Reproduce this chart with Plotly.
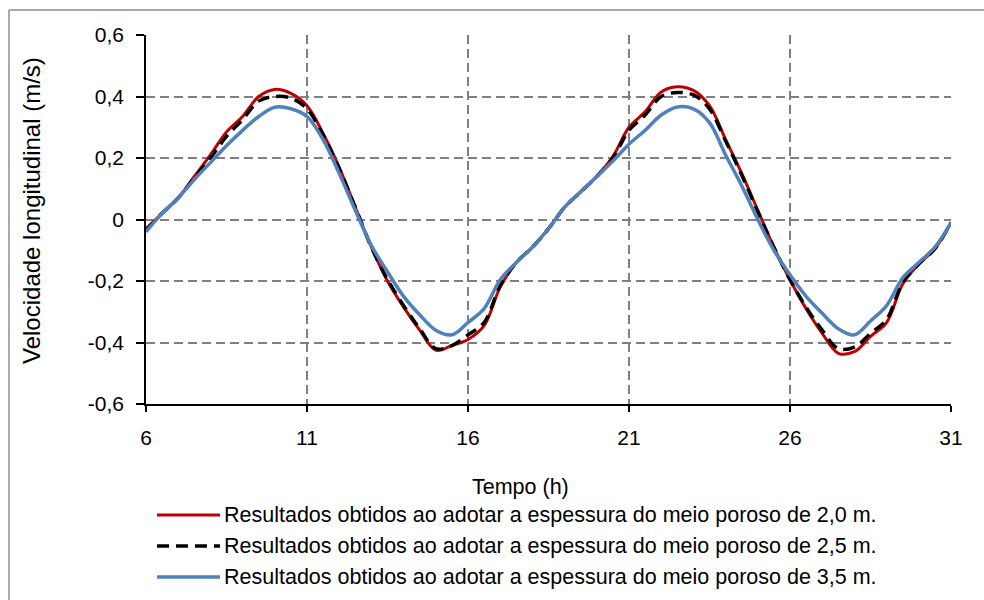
import plotly.graph_objects as go

tempo = [6.0, 6.5, 7.0, 7.5, 8.0, 8.5, 9.0, 9.5, 10.0, 10.5, 11.0, 11.5, 12.0, 12.5, 13.0, 13.5,
         14.0, 14.5, 15.0, 15.5, 16.0, 16.5, 17.0, 17.5, 18.0, 18.5, 19.0, 19.5, 20.0, 20.5,
         21.0, 21.5, 22.0, 22.5, 23.0, 23.5, 24.0, 24.5, 25.0, 25.5, 26.0, 26.5, 27.0, 27.5,
         28.0, 28.5, 29.0, 29.5, 30.0, 30.5, 31.0]

vel_2_0 = [-0.03, 0.02, 0.07, 0.14, 0.21, 0.285, 0.335, 0.40, 0.423, 0.41, 0.37, 0.28, 0.17, 0.04,
           -0.09, -0.20, -0.285, -0.36, -0.425, -0.41, -0.39, -0.345, -0.22, -0.14, -0.09, -0.03,
           0.04, 0.09, 0.14, 0.205, 0.30, 0.35, 0.415, 0.432, 0.42, 0.37, 0.26, 0.15, 0.03, -0.09,
           -0.196, -0.29, -0.37, -0.435, -0.43, -0.38, -0.335, -0.21, -0.145, -0.095, -0.01]

vel_2_5 = [-0.035, 0.02, 0.07, 0.135, 0.20, 0.27, 0.325, 0.385, 0.40, 0.395, 0.36, 0.275, 0.165, 0.04,
           -0.09, -0.195, -0.28, -0.355, -0.42, -0.41, -0.375, -0.335, -0.215, -0.14, -0.09, -0.03,
           0.04, 0.09, 0.14, 0.20, 0.29, 0.34, 0.40, 0.413, 0.405, 0.36, 0.255, 0.145, 0.025, -0.09,
           -0.196, -0.285, -0.36, -0.42, -0.415, -0.37, -0.325, -0.205, -0.145, -0.095, -0.01]

vel_3_5 = [-0.04, 0.02, 0.07, 0.13, 0.185, 0.24, 0.29, 0.335, 0.365, 0.36, 0.335, 0.26, 0.15, 0.03,
           -0.085, -0.17, -0.25, -0.31, -0.36, -0.375, -0.335, -0.29, -0.196, -0.14, -0.09, -0.03,
           0.04, 0.09, 0.14, 0.19, 0.245, 0.29, 0.34, 0.366, 0.36, 0.315, 0.21, 0.11, 0.0, -0.10,
           -0.18, -0.25, -0.305, -0.355, -0.375, -0.33, -0.28, -0.19, -0.14, -0.09, -0.01]

y_ticks = [-0.6, -0.4, -0.2, 0.0, 0.2, 0.4, 0.6]
y_tick_text = ["-0,6", "-0,4", "-0,2", "0", "0,2", "0,4", "0,6"]
x_ticks = [6, 11, 16, 21, 26, 31]

names = [
    "Resultados obtidos ao adotar a espessura do meio poroso de 2,0 m.",
    "Resultados obtidos ao adotar a espessura do meio poroso de 2,5 m.",
    "Resultados obtidos ao adotar a espessura do meio poroso de 3,5 m.",
]
colors = ["#C00000", "#000000", "#4F81BD"]
dashes = ["solid", "12px,7px", "solid"]
widths = [3, 3.5, 3.5]
series = [vel_2_0, vel_2_5, vel_3_5]

FONT = "Liberation Sans, Arial, sans-serif"

fig = go.Figure()
for name, vals, c, d, w in zip(names, series, colors, dashes, widths):
    fig.add_trace(go.Scatter(
        x=tempo, y=vals, mode="lines", name=name,
        line=dict(color=c, width=w, dash=d, shape="spline", smoothing=1.0),
        showlegend=False,
    ))

# plot-area pixel geometry helpers (paper coords)
L, R, T, B = 146, 951, 35, 404
def px(x):
    return (x - L) / (R - L)
def py(y):
    return (B - y) / (B - T)

shapes = []
annotations = []
legend_rows = [515, 546, 577]
for yrow, name, c, d, w in zip(legend_rows, names, colors, dashes, widths):
    shapes.append(dict(type="line", xref="paper", yref="paper",
                       x0=px(157), x1=px(220), y0=py(yrow), y1=py(yrow),
                       line=dict(color=c, width=w, dash=d)))
    annotations.append(dict(text=name, xref="paper", yref="paper", x=px(222), y=py(yrow),
                            xanchor="left", yanchor="middle", showarrow=False,
                            font=dict(family=FONT, size=21.5, color="#000")))

annotations.append(dict(text="Tempo (h)", xref="paper", yref="paper", x=px(520), y=py(487),
                        xanchor="center", yanchor="middle", showarrow=False,
                        font=dict(family=FONT, size=21.5, color="#000")))
annotations.append(dict(text="Velocidade longitudinal (m/s)", xref="paper", yref="paper",
                        x=px(31), y=py(211), xanchor="center", yanchor="middle", textangle=-90,
                        showarrow=False, font=dict(family=FONT, size=24, color="#000")))

# outer chart border (left and top edges are the visible ones)
shapes.append(dict(type="line", xref="paper", yref="paper",
                   x0=px(9), x1=px(9), y0=py(600), y1=py(10),
                   line=dict(color="#8c8c8c", width=1.5), layer="below"))
shapes.append(dict(type="line", xref="paper", yref="paper",
                   x0=px(9), x1=px(984), y0=py(10), y1=py(10),
                   line=dict(color="#8c8c8c", width=1.5), layer="below"))

fig.update_layout(
    width=984, height=600,
    margin=dict(l=L, r=984 - R, t=T, b=600 - B),
    paper_bgcolor="white", plot_bgcolor="white",
    font=dict(family=FONT, size=21, color="#000"),
    shapes=shapes, annotations=annotations,
    showlegend=False,
)
fig.update_xaxes(
    range=[6, 31], tickvals=x_ticks, ticktext=[str(v) for v in x_ticks],
    showline=True, linecolor="#000", linewidth=1.5,
    ticks="outside", ticklen=6, tickcolor="#000", tickwidth=1.5,
    ticklabelstandoff=8,
    showgrid=True, gridcolor="#808080", gridwidth=1.6, griddash="9px,5px",
    zeroline=False, tickfont=dict(size=21),
)
fig.update_yaxes(
    range=[-0.6, 0.6], tickvals=y_ticks, ticktext=y_tick_text,
    showline=True, linecolor="#000", linewidth=1.5,
    ticks="outside", ticklen=8, tickcolor="#000", tickwidth=1.5,
    ticklabelstandoff=8,
    showgrid=True, gridcolor="#808080", gridwidth=1.6, griddash="9px,5px",
    zeroline=False, tickfont=dict(size=21),
)

fig.write_html("out.html")
